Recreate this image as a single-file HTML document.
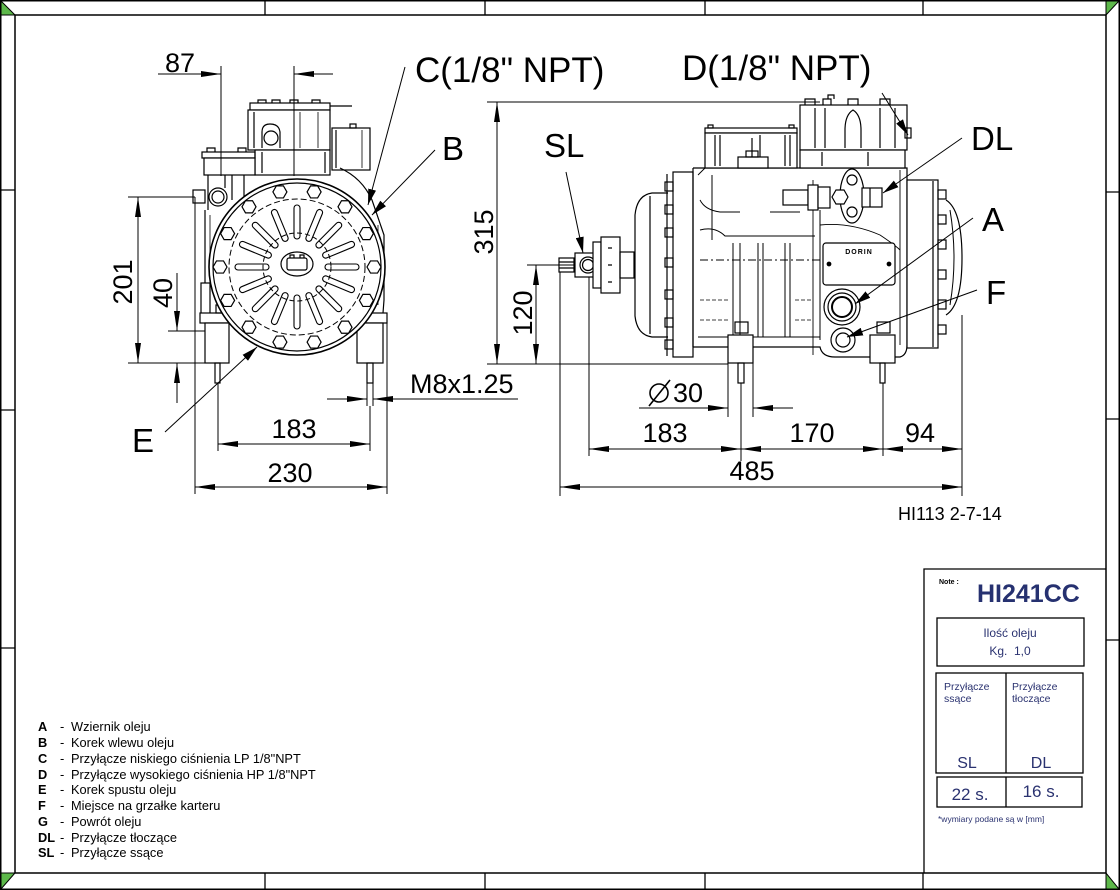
<!DOCTYPE html>
<html><head><meta charset="utf-8"><style>
html,body{margin:0;padding:0;background:#fff;}
svg{display:block;}
text{font-family:"Liberation Sans",Arial,sans-serif;}
</style></head><body>
<svg width="1120" height="890" viewBox="0 0 1120 890" xmlns="http://www.w3.org/2000/svg">
<defs>
<marker id="ar" viewBox="0 0 20 6" refX="20" refY="3" markerWidth="20" markerHeight="6" markerUnits="userSpaceOnUse" orient="auto-start-reverse"><path d="M0,0L20,3L0,6z" fill="#000"/></marker>
<marker id="ld" viewBox="0 0 16 8" refX="16" refY="4" markerWidth="16" markerHeight="8" markerUnits="userSpaceOnUse" orient="auto"><path d="M0,0L16,4L0,8z" fill="#000"/></marker>
<polygon id="hx" points="7,0 3.5,6.06 -3.5,6.06 -7,0 -3.5,-6.06 3.5,-6.06" fill="#fff" stroke="#000" stroke-width="1.2"/>
</defs>

<!-- FRAME -->
<g stroke="#000" fill="none">
<rect x="0.75" y="0.75" width="1118.5" height="888.5" stroke-width="1.5"/>
<rect x="15" y="15" width="1091" height="858" stroke-width="1.5"/>
<path d="M265,0V15M485,0V15M705,0V15M923,0V15M265,873V889M485,873V889M705,873V889M923,873V889M0,190H15M0,410H15M0,648H15M1106,192H1120M1106,419H1120M1106,640H1120" stroke-width="1.3"/>
</g>
<g fill="#5db84a" stroke="#000" stroke-width="1">
<polygon points="1,1 1,15 15,15"/>
<polygon points="1106,1 1119,1 1106,15"/>
<polygon points="1,873 15,873 1,889"/>
<polygon points="1106,873 1106,889 1119,889"/>
</g>

<!-- ================= LEFT VIEW ================= -->
<g stroke="#000" stroke-width="1.2" fill="none">
<!-- head -->
<rect x="250" y="103" width="80" height="7"/>
<path d="M258,103v-3h8v3M272,103v-3h8v3M290,103v-3h8v3M312,103v-3h8v3"/>
<line x1="330" y1="106" x2="352" y2="106"/>
<rect x="248" y="110" width="82" height="40" fill="#fff"/>
<line x1="254" y1="112" x2="254" y2="148"/>
<path d="M262,148V132Q262,124 270,124Q279,124 280,132V148"/>
<circle cx="271" cy="138" r="7"/>
<path d="M300,112V148M318,112V148" stroke-width="0.8"/>
<rect x="255" y="150" width="75" height="25" fill="#fff"/>
<line x1="262" y1="152" x2="262" y2="173"/>
<line x1="325" y1="152" x2="325" y2="173"/>
<rect x="332" y="128" width="38" height="42" fill="#fff"/>
<line x1="336" y1="130" x2="336" y2="168"/>
<line x1="362" y1="130" x2="362" y2="168" stroke-width="0.8"/>
<rect x="350" y="124" width="6" height="4"/>
<!-- valve cluster -->
<rect x="202" y="152" width="53" height="6"/>
<rect x="204" y="158" width="51" height="17" fill="#fff"/>
<path d="M207,152v-4h8v4M238,152v-4h8v4"/>
<path d="M208,175V210M244,175V200M225,175V188M232,175V200"/>
<rect x="193" y="190" width="12" height="13" fill="#fff"/>
<circle cx="218" cy="197" r="9" fill="#fff"/>
<circle cx="218" cy="197" r="6"/>
<!-- body behind -->
<path d="M340,168Q362,178 372,200L384,235V300L383,313"/>
<path d="M378,225V305" stroke-width="0.8"/>
<path d="M205,210V313"/>
<path d="M210,215V300" stroke-width="0.8"/>
<rect x="201" y="283" width="9" height="35" fill="#fff"/>
<rect x="200" y="313" width="187" height="10" fill="#fff"/>
<rect x="216" y="305" width="12" height="8"/>
<rect x="360" y="305" width="12" height="8"/>
<path d="M228,323Q297,362 366,323"/>
<path d="M240,326Q297,352 354,326" stroke-width="0.8"/>
<!-- feet -->
<rect x="205" y="323" width="24" height="40" fill="#fff"/>
<rect x="357" y="323" width="26" height="40" fill="#fff"/>
<rect x="215" y="363" width="5" height="20"/>
<rect x="367" y="363" width="6" height="20"/>
<!-- end cover circle -->
<circle cx="297" cy="267" r="88" fill="#fff" stroke-width="1.6"/>
<circle cx="297" cy="267" r="84"/>
<circle cx="297" cy="267" r="68" stroke-dasharray="6 3" stroke-width="1"/>
<circle cx="297" cy="267" r="34" stroke-dasharray="5 3" stroke-width="1"/>
<g stroke-width="1.1">
<rect x="294" y="205" width="6" height="34" rx="3" transform="rotate(0 297 267)"/>
<rect x="294" y="205" width="6" height="34" rx="3" transform="rotate(22.5 297 267)"/>
<rect x="294" y="205" width="6" height="34" rx="3" transform="rotate(45 297 267)"/>
<rect x="294" y="205" width="6" height="34" rx="3" transform="rotate(67.5 297 267)"/>
<rect x="294" y="205" width="6" height="34" rx="3" transform="rotate(90 297 267)"/>
<rect x="294" y="205" width="6" height="34" rx="3" transform="rotate(112.5 297 267)"/>
<rect x="294" y="205" width="6" height="34" rx="3" transform="rotate(135 297 267)"/>
<rect x="294" y="205" width="6" height="34" rx="3" transform="rotate(157.5 297 267)"/>
<rect x="294" y="205" width="6" height="34" rx="3" transform="rotate(180 297 267)"/>
<rect x="294" y="205" width="6" height="34" rx="3" transform="rotate(202.5 297 267)"/>
<rect x="294" y="205" width="6" height="34" rx="3" transform="rotate(225 297 267)"/>
<rect x="294" y="205" width="6" height="34" rx="3" transform="rotate(247.5 297 267)"/>
<rect x="294" y="205" width="6" height="34" rx="3" transform="rotate(270 297 267)"/>
<rect x="294" y="205" width="6" height="34" rx="3" transform="rotate(292.5 297 267)"/>
<rect x="294" y="205" width="6" height="34" rx="3" transform="rotate(315 297 267)"/>
<rect x="294" y="205" width="6" height="34" rx="3" transform="rotate(337.5 297 267)"/>
</g>
<ellipse cx="297" cy="264" rx="16" ry="12" fill="#fff"/>
<rect x="287" y="258" width="20" height="12" rx="2"/>
<path d="M290,258v-3h4v3M300,258v-3h4v3"/>
</g>
<g>
<use href="#hx" x="314.1" y="191.9"/><use href="#hx" x="345" y="206.8"/><use href="#hx" x="366.4" y="233.6"/>
<use href="#hx" x="374" y="267"/><use href="#hx" x="366.4" y="300.4"/><use href="#hx" x="345" y="327.2"/>
<use href="#hx" x="314.1" y="342.1"/><use href="#hx" x="279.9" y="342.1"/><use href="#hx" x="249" y="327.2"/>
<use href="#hx" x="227.6" y="300.4"/><use href="#hx" x="220" y="267"/><use href="#hx" x="227.6" y="233.6"/>
<use href="#hx" x="249" y="206.8"/><use href="#hx" x="279.9" y="191.9"/>
</g>

<!-- LEFT VIEW DIMENSIONS -->
<g stroke="#000" stroke-width="1" fill="none">
<line x1="158" y1="74" x2="221" y2="74" marker-end="url(#ar)"/>
<line x1="333" y1="74" x2="294" y2="74" marker-end="url(#ar)"/>
<line x1="221" y1="66" x2="221" y2="176"/>
<line x1="294" y1="66" x2="294" y2="176"/>
<line x1="138" y1="197" x2="138" y2="363" marker-start="url(#ar)" marker-end="url(#ar)"/>
<line x1="128" y1="197" x2="195" y2="197"/>
<line x1="128" y1="363" x2="205" y2="363"/>
<line x1="177" y1="273" x2="177" y2="331" marker-end="url(#ar)"/>
<line x1="177" y1="403" x2="177" y2="363" marker-end="url(#ar)"/>
<line x1="168" y1="331" x2="205" y2="331"/>
<line x1="327" y1="399" x2="367" y2="399" marker-end="url(#ar)"/>
<line x1="518" y1="399" x2="373" y2="399" marker-end="url(#ar)"/>
<line x1="367" y1="383" x2="367" y2="406"/>
<line x1="373" y1="383" x2="373" y2="406"/>
<line x1="218" y1="444" x2="370" y2="444" marker-start="url(#ar)" marker-end="url(#ar)"/>
<line x1="218" y1="383" x2="218" y2="451"/>
<line x1="370" y1="406" x2="370" y2="451"/>
<line x1="195" y1="487" x2="387" y2="487" marker-start="url(#ar)" marker-end="url(#ar)"/>
<line x1="195" y1="197" x2="195" y2="494"/>
<line x1="387" y1="323" x2="387" y2="494"/>
<line x1="405" y1="67" x2="368" y2="205" marker-end="url(#ld)"/>
<line x1="435" y1="150" x2="372" y2="215" marker-end="url(#ld)"/>
<line x1="165" y1="432" x2="257" y2="347" marker-end="url(#ld)"/>
</g>
<g font-size="27" fill="#000">
<text x="165" y="72">87</text>
<text transform="translate(132,282) rotate(-90)" text-anchor="middle">201</text>
<text transform="translate(172,293) rotate(-90)" text-anchor="middle">40</text>
<text x="410" y="393">M8x1.25</text>
<text x="294" y="438" text-anchor="middle">183</text>
<text x="290" y="482" text-anchor="middle">230</text>
</g>
<g font-size="35" fill="#000">
<text x="415" y="82">C(1/8" NPT)</text>
<text x="682" y="80">D(1/8" NPT)</text>
</g>
<g font-size="33" fill="#000">
<text x="442" y="160">B</text>
<text x="132" y="452">E</text>
<text x="544" y="157">SL</text>
<text x="971" y="150">DL</text>
<text x="982" y="231">A</text>
<text x="986" y="304">F</text>
</g>

<!-- ================= RIGHT VIEW ================= -->
<g stroke="#000" stroke-width="1.2" fill="none">
<rect x="559" y="258" width="15" height="14"/>
<path d="M559,262H574M559,268H574"/>
<rect x="575" y="253" width="22" height="24" fill="#fff"/>
<circle cx="588" cy="265" r="8"/>
<circle cx="588" cy="265" r="5.5"/>
<rect x="593" y="242" width="8" height="46" fill="#fff"/>
<rect x="601" y="237" width="19" height="56" fill="#fff"/>
<path d="M608,248h4M608,265h4M608,282h4"/>
<rect x="620" y="252" width="14" height="26"/>
<path d="M668,193H652Q637,195 635,215V316Q637,335 652,337H668"/>
<line x1="650" y1="196" x2="650" y2="334"/>
<line x1="667" y1="174" x2="667" y2="356"/>
<rect x="673" y="172" width="20" height="185" fill="#fff"/>
<rect x="665" y="182" width="8" height="9"/><rect x="665" y="205" width="8" height="9"/>
<rect x="665" y="228" width="8" height="9"/><rect x="665" y="258" width="8" height="9"/>
<rect x="665" y="290" width="8" height="9"/><rect x="665" y="318" width="8" height="9"/>
<rect x="665" y="340" width="8" height="9"/>
<!-- body -->
<path d="M693,168H907V347M693,347H820Q822,357 835,357H900Q907,355 907,345"/>
<line x1="693" y1="168" x2="693" y2="347"/>
<path d="M813,180V355M900,170V345M698,337H820M698,175L705,168" stroke-width="0.9"/>
<path d="M700,200Q705,210 720,212H740M770,212H800" stroke-width="0.9"/>
<path d="M820,225Q850,222 880,235Q895,245 900,250" stroke-width="0.9"/>
<!-- left head -->
<rect x="705" y="128" width="92" height="5"/>
<rect x="705" y="133" width="92" height="35" fill="#fff"/>
<path d="M715,135V166M720,135V166M760,135V166M785,135V166M790,135V166"/>
<rect x="708" y="125" width="5" height="3"/><rect x="789" y="125" width="5" height="3"/>
<line x1="752" y1="138" x2="752" y2="157"/>
<rect x="738" y="157" width="30" height="11" fill="#fff"/>
<rect x="746" y="151" width="12" height="6"/>
<!-- right head -->
<rect x="800" y="105" width="107" height="45" fill="#fff"/>
<rect x="800" y="150" width="105" height="18" fill="#fff"/>
<path d="M805,105v-6h10v6M823,105v-6h8v6M848,105v-6h10v6M880,105v-6h10v6M828,99v-4h6v4"/>
<path d="M815,108V148M825,108V148M880,108V148M895,108V148"/>
<path d="M845,148V130Q845,115 853,110Q861,115 861,130V148"/>
<path d="M822,152V166M868,152V166"/>
<rect x="905" y="128" width="6" height="10"/>
<!-- DL valve -->
<rect x="783" y="190" width="25" height="15" fill="#fff"/>
<rect x="808" y="185" width="10" height="25" fill="#fff"/>
<rect x="818" y="187" width="12" height="21" fill="#fff"/>
<ellipse cx="852" cy="196" rx="12" ry="27" fill="#fff"/>
<circle cx="852" cy="180" r="5"/>
<circle cx="852" cy="212" r="5"/>
<polygon points="848,197 844,204 836,204 832,197 836,190 844,190" fill="#fff"/>
<rect x="862" y="188" width="20" height="19" fill="#fff"/>
<line x1="870" y1="188" x2="870" y2="207"/>
<!-- ribs -->
<path d="M733,243V337M740,243V337M758,243V337M763,243V337M785,243V337M790,243V337" stroke-width="1"/>
<path d="M700,260H820" stroke-dasharray="8 3 2 3" stroke-width="1"/>
<path d="M700,230Q715,226 725,236H815" stroke-width="1"/>
<path d="M712,175V240M820,210V340" stroke-width="1"/>
<path d="M700,300H730M700,320H730M795,300H812M795,320H812" stroke-width="0.8" stroke-dasharray="4 2"/>
<!-- plate -->
<rect x="823" y="243" width="72" height="42" rx="3" fill="#fff"/>
<circle cx="829" cy="264" r="1.8" fill="#000"/>
<circle cx="889" cy="264" r="1.8" fill="#000"/>
<!-- sight glass & F -->
<circle cx="842" cy="307" r="18"/>
<circle cx="842" cy="307" r="14"/>
<circle cx="842" cy="307" r="10" stroke-width="2"/>
<circle cx="843" cy="340" r="12"/>
<circle cx="843" cy="340" r="7"/>
<!-- feet -->
<rect x="735" y="322" width="13" height="11"/>
<rect x="877" y="322" width="13" height="11"/>
<rect x="728" y="335" width="25" height="28" fill="#fff"/>
<rect x="870" y="335" width="25" height="28" fill="#fff"/>
<rect x="738" y="363" width="6" height="20"/>
<rect x="880" y="363" width="5" height="20"/>
<!-- motor flange -->
<rect x="907" y="180" width="31" height="168" fill="#fff"/>
<line x1="933" y1="181" x2="933" y2="347"/>
<rect x="938" y="190" width="8" height="9"/><rect x="938" y="215" width="8" height="9"/>
<rect x="938" y="240" width="8" height="9"/><rect x="938" y="270" width="8" height="9"/>
<rect x="938" y="300" width="8" height="9"/><rect x="938" y="325" width="8" height="9"/>
<path d="M946,200Q962,210 962,258Q962,305 946,315"/>
<path d="M950,210Q958,258 950,305" stroke-width="1"/>
</g>
<text x="859" y="254" font-size="7" font-weight="bold" text-anchor="middle" letter-spacing="1">DORIN</text>

<!-- RIGHT VIEW DIMENSIONS -->
<g stroke="#000" stroke-width="1" fill="none">
<line x1="487" y1="102" x2="820" y2="102"/>
<line x1="497" y1="102" x2="497" y2="364" marker-start="url(#ar)" marker-end="url(#ar)"/>
<line x1="487" y1="364" x2="728" y2="364"/>
<line x1="536" y1="265" x2="536" y2="364" marker-start="url(#ar)" marker-end="url(#ar)"/>
<line x1="527" y1="265" x2="575" y2="265"/>
<line x1="560" y1="272" x2="560" y2="496"/>
<line x1="589" y1="277" x2="589" y2="456"/>
<line x1="639" y1="408" x2="728" y2="408" marker-end="url(#ar)"/>
<line x1="793" y1="408" x2="753" y2="408" marker-end="url(#ar)"/>
<line x1="728" y1="363" x2="728" y2="417"/>
<line x1="753" y1="363" x2="753" y2="417"/>
<line x1="741" y1="383" x2="741" y2="461"/>
<line x1="883" y1="383" x2="883" y2="456"/>
<line x1="962" y1="315" x2="962" y2="496"/>
<line x1="589" y1="449" x2="741" y2="449" marker-start="url(#ar)" marker-end="url(#ar)"/>
<line x1="741" y1="449" x2="883" y2="449" marker-start="url(#ar)" marker-end="url(#ar)"/>
<line x1="883" y1="449" x2="962" y2="449" marker-start="url(#ar)" marker-end="url(#ar)"/>
<line x1="560" y1="487" x2="962" y2="487" marker-start="url(#ar)" marker-end="url(#ar)"/>
<circle cx="659" cy="393" r="9" stroke-width="1.6"/>
<line x1="649" y1="406" x2="670" y2="380" stroke-width="1.6"/>
<line x1="566" y1="172" x2="583" y2="253" marker-end="url(#ld)"/>
<line x1="882" y1="93" x2="908" y2="135" marker-end="url(#ld)"/>
<line x1="962" y1="138" x2="883" y2="193" marker-end="url(#ld)"/>
<line x1="973" y1="218" x2="855" y2="304" marker-end="url(#ld)"/>
<line x1="977" y1="290" x2="847" y2="337" marker-end="url(#ld)"/>
</g>
<g font-size="27" fill="#000">
<text transform="translate(493,232) rotate(-90)" text-anchor="middle">315</text>
<text transform="translate(532,313) rotate(-90)" text-anchor="middle">120</text>
<text x="673" y="402">30</text>
<text x="665" y="442" text-anchor="middle">183</text>
<text x="812" y="442" text-anchor="middle">170</text>
<text x="920" y="442" text-anchor="middle">94</text>
<text x="752" y="480" text-anchor="middle">485</text>
</g>
<text x="898" y="520" font-size="18" fill="#000">HI113 2-7-14</text>

<!-- LEGEND -->
<g font-size="12.8" fill="#000">
<g font-weight="bold">
<text x="38" y="731">A</text><text x="38" y="747">B</text><text x="38" y="763">C</text>
<text x="38" y="779">D</text><text x="38" y="794">E</text><text x="38" y="810">F</text>
<text x="38" y="826">G</text><text x="38" y="842">DL</text><text x="38" y="857">SL</text>
</g>
<text x="60" y="731">-</text><text x="60" y="747">-</text><text x="60" y="763">-</text>
<text x="60" y="779">-</text><text x="60" y="794">-</text><text x="60" y="810">-</text>
<text x="60" y="826">-</text><text x="60" y="842">-</text><text x="60" y="857">-</text>
<text x="71" y="731">Wziernik oleju</text>
<text x="71" y="747">Korek wlewu oleju</text>
<text x="71" y="763">Przyłącze niskiego ciśnienia LP 1/8"NPT</text>
<text x="71" y="779">Przyłącze wysokiego ciśnienia HP 1/8"NPT</text>
<text x="71" y="794">Korek spustu oleju</text>
<text x="71" y="810">Miejsce na grzałke karteru</text>
<text x="71" y="826">Powrót oleju</text>
<text x="71" y="842">Przyłącze tłoczące</text>
<text x="71" y="857">Przyłącze ssące</text>
</g>

<!-- TITLE BLOCK -->
<g stroke="#000" stroke-width="1.3" fill="none">
<path d="M924,873V569H1106"/>
<rect x="937" y="618" width="147" height="48"/>
<rect x="936" y="673" width="147" height="100"/>
<line x1="1006" y1="673" x2="1006" y2="773"/>
<rect x="937" y="777" width="145" height="30"/>
<line x1="1006" y1="777" x2="1006" y2="807"/>
</g>
<text x="939" y="584" font-size="7" font-weight="bold" fill="#000">Note :</text>
<text x="977" y="602" font-size="25" font-weight="bold" fill="#263170">HI241CC</text>
<g fill="#2a3270">
<text x="1010" y="637" font-size="12" text-anchor="middle">Ilość oleju</text>
<text x="1010" y="655" font-size="12" text-anchor="middle" xml:space="preserve">Kg.  1,0</text>
<text x="944" y="690" font-size="10.5">Przyłącze</text>
<text x="944" y="702" font-size="10.5">ssące</text>
<text x="1012" y="690" font-size="10.5">Przyłącze</text>
<text x="1012" y="702" font-size="10.5">tłoczące</text>
<text x="967" y="768" font-size="16" text-anchor="middle">SL</text>
<text x="1041" y="768" font-size="16" text-anchor="middle">DL</text>
<text x="970" y="800" font-size="17" text-anchor="middle">22 s.</text>
<text x="1041" y="797" font-size="17" text-anchor="middle">16 s.</text>
<text x="938" y="822" font-size="8.5">*wymiary podane są w [mm]</text>
</g>
</svg>
</body></html>
